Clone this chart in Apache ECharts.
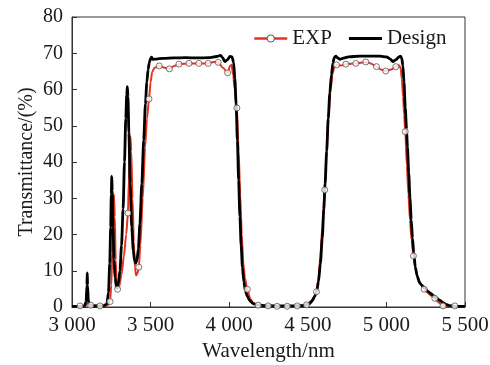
<!DOCTYPE html>
<html><head><meta charset="utf-8">
<script src="https://cdn.jsdelivr.net/npm/echarts@6/dist/echarts.min.js"></script>
<style>html,body{margin:0;padding:0;background:#fff}#c{width:490px;height:365px}</style>
</head><body><div id="c"></div>
<script>
const xTickValues = [3000, 3500, 4000, 4500, 5000, 5500];
const xTickLabels = ['3 000', '3 500', '4 000', '4 500', '5 000', '5 500'];
const yTickLabels = ['0', '10', '20', '30', '40', '50', '60', '70', '80'];

const designX = [3000,3040,3080,3090,3095,3097,3099,3104,3115,3150,3200,3222,3232,3240,3246,3250,3253,3256,3261,3267,3274,3284,3295,3305,3315,3325,3334,3342,3348,3352,3356,3362,3370,3380,3390,3398,3405,3413,3422,3432,3444,3456,3467,3476,3484,3492,3500,3506,3515,3535,3580,3650,3720,3800,3870,3920,3945,3958,3972,3988,4005,4018,4028,4036,4044,4052,4060,4068,4076,4084,4093,4103,4115,4130,4150,4175,4220,4300,4400,4470,4510,4530,4545,4556,4568,4580,4592,4602,4610,4620,4630,4640,4650,4660,4668,4678,4690,4705,4720,4760,4830,4900,4960,5000,5025,5041,5060,5080,5090,5098,5105,5112,5120,5128,5134,5142,5150,5158,5166,5174,5184,5196,5212,5230,5245,5262,5280,5300,5320,5340,5360,5380,5400,5440,5500];
const designY = [0.2,0.2,0.3,1.5,6,9.4,6,1.5,0.4,0.3,0.3,0.8,4,12,22,31,36,32,22,13,8,5.2,6.5,10,17,27,40,52,58.5,60.8,58,48,34,22,15.5,12.8,12.1,12.8,16,23,34,46,56,62,65.5,67.5,68.6,68.9,68.3,68.4,68.6,68.7,68.8,68.7,68.8,69.1,69.4,68.8,67.7,68.2,69.1,69.0,67.5,63,56,46,35,25,17,11,7,4.5,3,1.8,1,0.6,0.4,0.3,0.3,0.4,0.9,1.8,3,4.2,7,12,19,27,34,43,52,59,64,67.3,68.8,69.2,68.7,68.3,68.6,69.0,69.2,69.2,69.2,69.0,68.4,67.7,68.2,69.0,69.2,68.6,66.5,62,55,49,44,37,30,24,19,15,11,8.5,6.6,5.8,5.2,4.4,3.8,3.1,2.4,1.8,1.2,0.7,0.4,0.2,0.2];

const expX = [3000,3051,3085,3100,3108,3115,3119,3178,3225,3242,3250,3256,3262,3267,3272,3278,3284,3290,3300,3315,3330,3345,3356,3362,3368,3372,3377,3385,3393,3400,3408,3418,3425,3435,3450,3465,3477,3490,3500,3510,3525,3555,3590,3619,3650,3680,3744,3807,3866,3900,3930,3960,3990,4005,4015,4025,4035,4049,4060,4070,4080,4090,4100,4115,4135,4155,4184,4248,4305,4369,4433,4492,4520,4540,4555,4568,4580,4592,4608,4620,4632,4645,4658,4670,4683,4710,4742,4805,4869,4900,4937,4965,4996,5030,5060,5080,5090,5098,5106,5113,5120,5130,5140,5150,5160,5172,5185,5200,5220,5240,5260,5285,5308,5330,5360,5400,5435,5470,5500];
const expY = [0.2,0.3,0.3,1.2,1.8,0.6,0.5,0.3,0.4,1.5,6,15,25,31,25,13,6.5,4.9,5.5,9,14,20,25.9,35,44,47,43,30,18,11,8.7,9.5,11.0,17,30,44,52,57.4,62,64.8,66,66.5,66.0,65.7,66.5,67.0,67.2,67.2,67.2,67.6,67.5,66,64.6,66.5,66.8,64,60,54.9,43,31,20,12,8,4.9,2.2,1.0,0.5,0.3,0.2,0.2,0.3,0.6,1.6,2.8,4.2,8,14,22,32.3,43,53,60,64.5,66.3,66.8,66.6,67.0,67.2,67.6,67.2,66.3,65.5,65.1,65.5,66.3,66.7,66,63,58,53,48.4,39,31,24,18.5,14.1,10.5,8,6.2,4.9,4.0,3.1,2.4,1.3,0.3,0.1,0.3,0.1,0.1];

const markerX = [3051,3119,3178,3242,3290,3356,3425,3490,3555,3619,3680,3744,3807,3866,3930,3990,4049,4115,4184,4248,4305,4369,4433,4492,4555,4608,4683,4742,4805,4869,4937,4996,5060,5120,5172,5240,5308,5360,5435];
const markerY = [0.3,0.5,0.3,1.5,4.9,25.9,11.0,57.4,66.5,65.7,67.0,67.2,67.2,67.2,67.5,64.6,54.9,4.9,0.5,0.3,0.2,0.2,0.3,0.6,4.2,32.3,66.8,67.0,67.2,67.6,66.3,65.1,66.3,48.4,14.1,4.9,2.4,0.3,0.3];

const zip = (a, b) => a.map((v, i) => [v, b[i]]);
const FONT = 'Liberation Serif';
const TXT = '#1a1a1a';
const RED = '#e8321e';

const chart = echarts.init(document.getElementById('c'), null, {renderer: 'canvas'});
chart.setOption({
  animation: false,
  backgroundColor: '#fff',
  grid: {left: 72, right: 25, top: 17, bottom: 58, outerBoundsMode: 'none', containLabel: false,
         show: true, borderColor: '#333', borderWidth: 1, backgroundColor: 'transparent'},
  legend: {
    left: 248, top: 23, itemWidth: 33, itemHeight: 9, itemGap: 17,
    textStyle: {fontFamily: FONT, fontSize: 21, color: TXT},
    data: [
      {name: 'EXP', itemStyle: {color: '#fff', borderColor: '#555', borderWidth: 1}, lineStyle: {width: 2.5}},
      {name: 'Design', icon: 'path://M0,0H40V3.6H0Z'}
    ]
  },
  xAxis: {
    type: 'value', min: 3000, max: 5500, interval: 500,
    name: 'Wavelength/nm', nameLocation: 'middle', nameGap: 33,
    nameTextStyle: {fontFamily: FONT, fontSize: 21, color: TXT},
    axisLine: {lineStyle: {color: '#333', width: 1}},
    axisTick: {inside: true, length: 5, lineStyle: {color: '#333'}},
    axisLabel: {fontFamily: FONT, fontSize: 21, color: TXT, margin: 8,
      formatter: v => xTickLabels[xTickValues.indexOf(v)] ?? ''},
    splitLine: {show: false}
  },
  yAxis: {
    type: 'value', min: 0, max: 80, interval: 10,
    name: 'Transmittance/(%)', nameLocation: 'middle', nameGap: 35, nameMoveOverlap: false,
    nameTextStyle: {fontFamily: FONT, fontSize: 20, color: TXT},
    axisLine: {show: true, lineStyle: {color: '#333', width: 1}},
    axisTick: {show: true, inside: true, length: 5, lineStyle: {color: '#333'}},
    axisLabel: {fontFamily: FONT, fontSize: 20, color: TXT, margin: 9,
      formatter: v => yTickLabels[Math.round(v / 10)] ?? ''},
    splitLine: {show: false}
  },
  series: [
    {name: 'EXP', type: 'line', data: zip(expX, expY), z: 2,
     symbol: 'circle', showSymbol: false, smooth: 0.25, smoothMonotone: 'x',
     lineStyle: {color: RED, width: 2},
     itemStyle: {color: '#fff', borderColor: '#555', borderWidth: 1}},
    {name: 'Design', type: 'line', data: zip(designX, designY), z: 3,
     symbol: 'none', smooth: 0.25, smoothMonotone: 'x',
     lineStyle: {color: '#000', width: 2.8}, itemStyle: {color: '#000'}},
    {name: 'EXP markers', type: 'scatter', data: zip(markerX, markerY), z: 4,
     symbol: 'circle', symbolSize: 6,
     itemStyle: {color: '#fff', borderColor: '#555', borderWidth: 1}}
  ]
});
</script>
</body></html>
